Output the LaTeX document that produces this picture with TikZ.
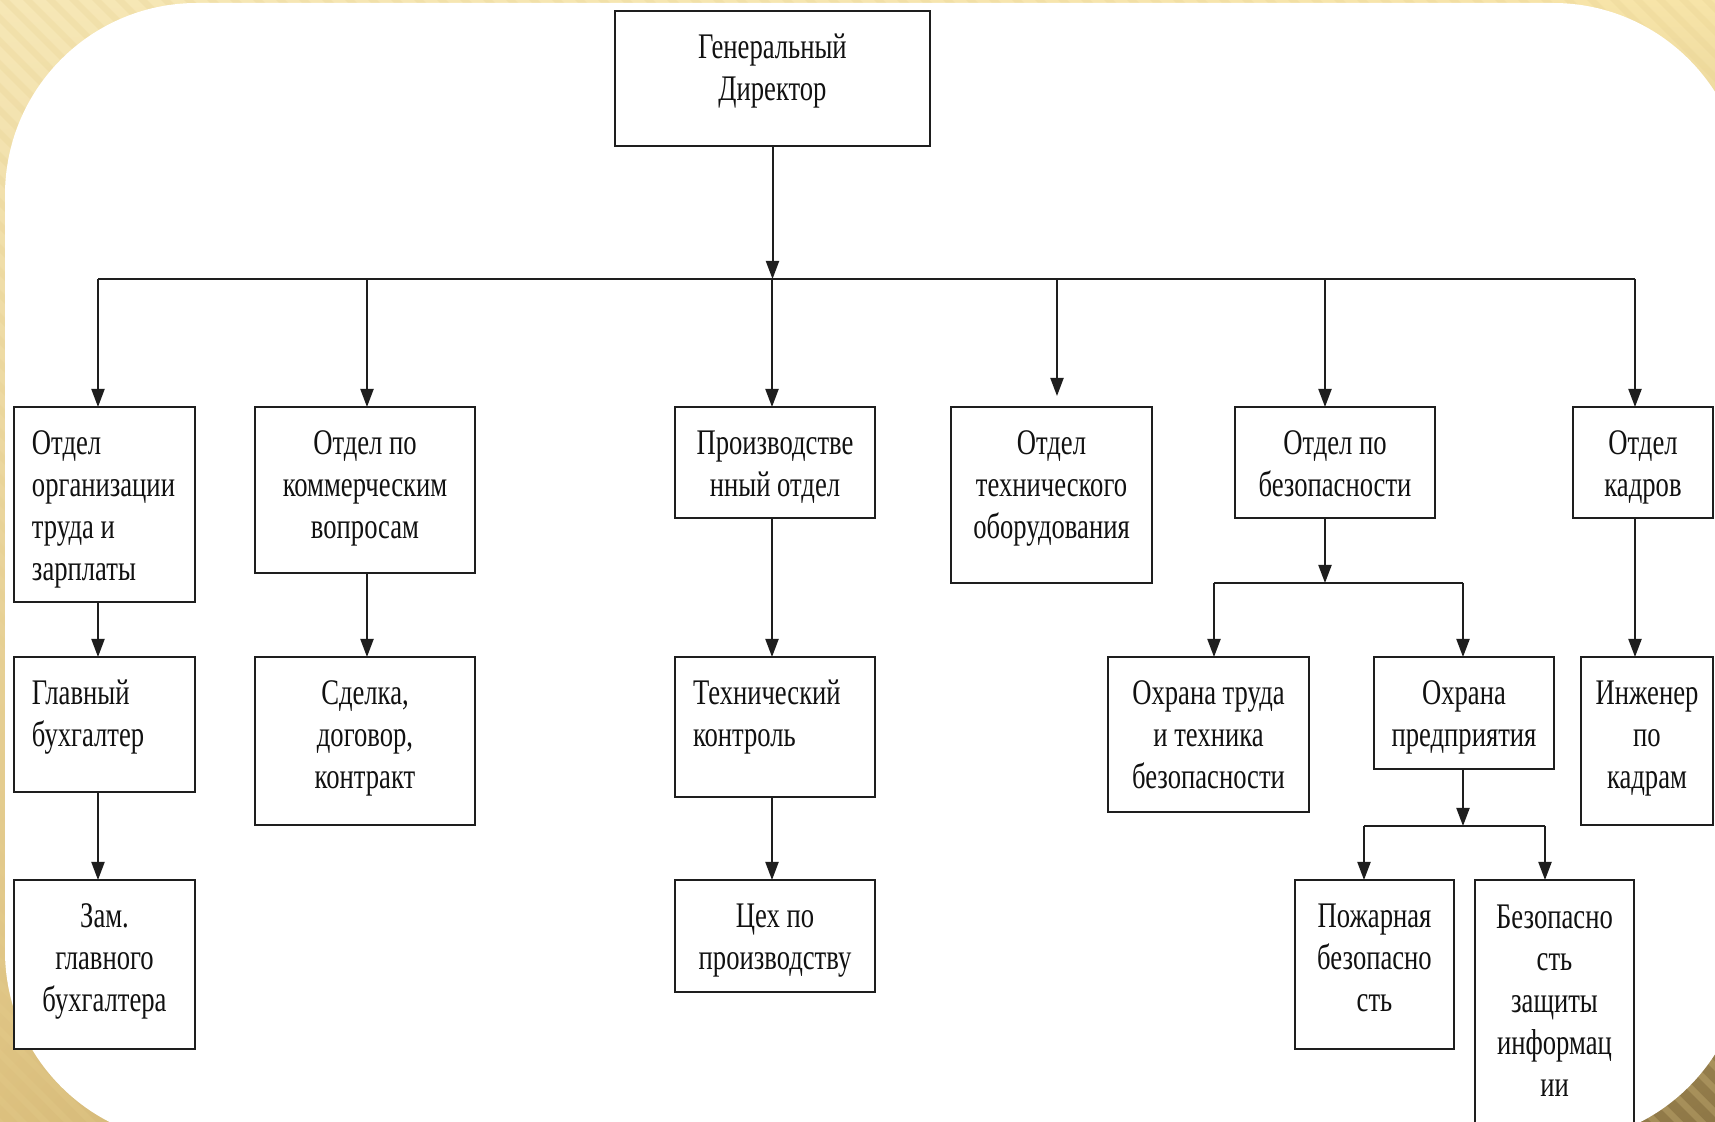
\documentclass[tikz,border=0pt]{standalone}
\usepackage{fontspec}
\setmainfont[FakeStretch=0.74]{Liberation Serif}
\usetikzlibrary{arrows.meta,shadings}
\definecolor{bgUL}{HTML}{F6E7B6}
\definecolor{bgUR}{HTML}{F7E4A8}
\definecolor{bgLL}{HTML}{DCC07E}
\definecolor{bgLR}{HTML}{8E7746}
\definecolor{stripeC}{HTML}{E6CF8E}
\definecolor{lineC}{HTML}{1E1E1E}
\definecolor{txtC}{HTML}{111111}
\tikzset{
  obx/.style={draw=lineC, line width=1.1pt, fill=white, inner sep=0pt, outer sep=0pt,
    anchor=north west, text=txtC, font=\fontsize{18pt}{21pt}\selectfont},
  conn/.style={draw=lineC, line width=1pt},
  arr/.style={conn, -{Triangle[width=6.5pt,length=9pt]}},
}
\newcommand\lal{\raggedright\leftskip=9pt\relax}
\newcommand\ctrd{\centering}
\newcommand\obox[7]{\node[obx] (#1) at (#2,#3)
  {\parbox[c][\dimexpr(#5pt-#3pt)/2\relax][t]{\dimexpr(#4pt-#2pt)/2\relax}{#6\rule{0pt}{24pt}\ignorespaces#7}};}
\begin{document}
\begin{tikzpicture}[x=0.5pt,y=-0.5pt]
\useasboundingbox (0,0) rectangle (1715,1122);
\clip (0,0) rectangle (1715,1122);
% background
\shade[upper left=bgUL, upper right=bgUR, lower left=bgLL, lower right=bgLR] (0,0) rectangle (1715,1122);
\foreach \i in {-49,...,75} {
  \fill[stripeC, opacity=0.25] (\i*23,0) -- ++(9,0) -- ++(1122,1122) -- ++(-9,0) -- cycle;
}
\fill[white, rounded corners=96pt] (5,3) rectangle (1745,1143);
% boxes
\obox{dir}{615}{11}{930}{146}{\ctrd}{Генеральный\\Директор}
\obox{b1}{14}{407}{195}{602}{\lal}{Отдел\\организации\\труда и\\зарплаты}
\obox{b2}{255}{407}{475}{573}{\ctrd}{Отдел по\\коммерческим\\вопросам}
\obox{b3}{675}{407}{875}{518}{\ctrd}{Производстве\\нный отдел}
\obox{b4}{951}{407}{1152}{583}{\ctrd}{Отдел\\технического\\оборудования}
\obox{b5}{1235}{407}{1435}{518}{\ctrd}{Отдел по\\безопасности}
\obox{b6}{1573}{407}{1713}{518}{\ctrd}{Отдел\\кадров}
\obox{g1}{14}{657}{195}{792}{\lal}{Главный\\бухгалтер}
\obox{s2}{255}{657}{475}{825}{\ctrd}{Сделка,\\договор,\\контракт}
\obox{t3}{675}{657}{875}{797}{\lal}{Технический\\контроль}
\obox{o1}{1108}{657}{1309}{812}{\ctrd}{Охрана труда\\и техника\\безопасности}
\obox{o2}{1374}{657}{1554}{769}{\ctrd}{Охрана\\предприятия}
\obox{i6}{1581}{657}{1713}{825}{\ctrd}{Инженер\\по\\кадрам}
\obox{z1}{14}{880}{195}{1049}{\ctrd}{Зам.\\главного\\бухгалтера}
\obox{c3}{675}{880}{875}{992}{\ctrd}{Цех по\\производству}
\obox{p1}{1295}{880}{1454}{1049}{\ctrd}{Пожарная\\безопасно\\сть}
\obox{p2}{1475}{880}{1634}{1140}{\ctrd}{Безопасно\\сть\\защиты\\информац\\ии}
% connectors
\coordinate (busL) at (98,279);
\coordinate (busR) at (1635,279);
\coordinate (k1) at (98,279);
\coordinate (k2) at (367,279);
\coordinate (k3) at (772,279);
\coordinate (k4) at (1057,279);
\coordinate (k5) at (1325,279);
\coordinate (k6) at (1635,279);
\coordinate (e4) at (1057,396);
\draw[conn] (busL) -- (busR);
\draw[arr] (dir.south) -- (dir.south |- k3);
\draw[arr] (k1) -- (k1 |- b1.north);
\draw[arr] (k2) -- (k2 |- b2.north);
\draw[arr] (k3) -- (k3 |- b3.north);
\draw[arr] (k4) -- (e4);
\draw[arr] (k5) -- (k5 |- b5.north);
\draw[arr] (k6) -- (k6 |- b6.north);
\draw[arr] (k1 |- b1.south) -- (k1 |- g1.north);
\draw[arr] (k1 |- g1.south) -- (k1 |- z1.north);
\draw[arr] (k2 |- b2.south) -- (k2 |- s2.north);
\draw[arr] (k3 |- b3.south) -- (k3 |- t3.north);
\draw[arr] (k3 |- t3.south) -- (k3 |- c3.north);
\draw[arr] (k6 |- b6.south) -- (k6 |- i6.north);
\coordinate (j5) at (1325,583);
\coordinate (jL) at (1214,583);
\coordinate (jR) at (1463,583);
\draw[arr] (k5 |- b5.south) -- (j5);
\draw[conn] (jL) -- (jR);
\draw[arr] (jL) -- (jL |- o1.north);
\draw[arr] (jR) -- (jR |- o2.north);
\coordinate (m2) at (1463,826);
\coordinate (mL) at (1364,826);
\coordinate (mR) at (1545,826);
\draw[arr] (jR |- o2.south) -- (m2);
\draw[conn] (mL) -- (mR);
\draw[arr] (mL) -- (mL |- p1.north);
\draw[arr] (mR) -- (mR |- p2.north);
\end{tikzpicture}
\end{document}
